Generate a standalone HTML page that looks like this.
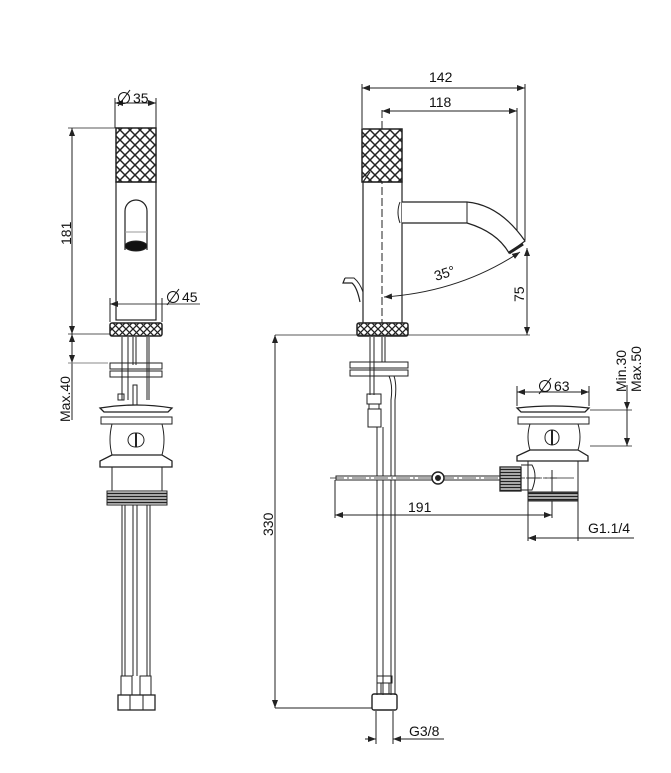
<!DOCTYPE html>
<html><head><meta charset="utf-8"><style>
html,body{margin:0;padding:0;background:#fff}
svg{display:block}
text{font-family:"Liberation Sans",sans-serif;font-size:14px;fill:#111}
</style></head><body>
<svg width="671" height="773" viewBox="0 0 671 773" xmlns="http://www.w3.org/2000/svg">
<defs>
<pattern id="kn" width="10" height="10" patternUnits="userSpaceOnUse">
<rect width="10" height="10" fill="#fff"/>
<path d="M0 0L10 10M10 0L0 10" stroke="#222" stroke-width="1.5"/>
</pattern>
<pattern id="kn2" width="7" height="7" patternUnits="userSpaceOnUse">
<rect width="7" height="7" fill="#fff"/>
<path d="M0 0L7 7M7 0L0 7" stroke="#222" stroke-width="1.3"/>
</pattern>
<pattern id="th" width="3" height="3" patternUnits="userSpaceOnUse">
<rect width="3" height="3" fill="#fff"/><path d="M0 1.5H3" stroke="#222" stroke-width="1.8"/>
</pattern>
<marker id="a" markerWidth="8" markerHeight="6" refX="8" refY="3" orient="auto-start-reverse" markerUnits="userSpaceOnUse">
<path d="M0 0L8 3L0 6z" fill="#222"/></marker>
</defs>
<g fill="none" stroke="#222" stroke-width="1">
<!-- LEFT VIEW -->
<line x1="115" y1="98" x2="115" y2="128"/><line x1="156" y1="98" x2="156" y2="128"/>
<line x1="115" y1="103" x2="156" y2="103" marker-start="url(#a)" marker-end="url(#a)"/>
<line x1="68" y1="128" x2="116" y2="128" stroke-width=".7"/>
<line x1="68" y1="334" x2="110" y2="334" stroke-width=".7"/>
<line x1="72" y1="128" x2="72" y2="334" marker-start="url(#a)" marker-end="url(#a)"/>
<line x1="72" y1="334" x2="72" y2="348" marker-start="url(#a)"/>
<line x1="72" y1="363" x2="72" y2="420"/>
<line x1="72" y1="348" x2="72" y2="363" marker-end="url(#a)"/>
<line x1="68" y1="363" x2="108" y2="363" stroke="#888"/>
<rect x="116" y="128" width="40" height="54" fill="url(#kn)" stroke-width="1.5"/>
<rect x="116" y="182" width="40" height="138" stroke-width="1.2"/>
<path d="M125 250V211a11 11 0 0 1 22 0V250" stroke-width="1.2"/>
<ellipse cx="136" cy="246" rx="11" ry="5" fill="#111"/>
<line x1="125" y1="232" x2="147" y2="232" stroke="#999"/>
<line x1="110" y1="304" x2="200" y2="304" marker-start="url(#a)" stroke="#444"/>
<line x1="110" y1="298" x2="110" y2="322"/><line x1="162" y1="298" x2="162" y2="322"/>
<rect x="110" y="323" width="52" height="13" rx="2" fill="url(#kn2)" stroke-width="1.5"/>
<line x1="122" y1="337" x2="122" y2="400"/><line x1="128" y1="337" x2="128" y2="400"/>
<line x1="133" y1="337" x2="133" y2="365"/><line x1="136" y1="337" x2="136" y2="365"/>
<line x1="147" y1="337" x2="147" y2="400"/><line x1="149" y1="337" x2="149" y2="400"/>
<rect x="110" y="363" width="52" height="6"/><rect x="110" y="371" width="52" height="6"/>
<rect x="118" y="394" width="6" height="6"/><rect x="133" y="385" width="4" height="20"/>
<path d="M100 408Q136 402 172 408L168 412H104z" stroke-width="1.3"/>
<rect x="101" y="417" width="71" height="7"/>
<path d="M112 424Q108 440 112 455M162 424Q166 440 162 455"/>
<rect x="128" y="433" width="16" height="14" rx="7"/><line x1="136" y1="433" x2="136" y2="447" stroke-width="2"/>
<path d="M112 455L100 461V467H172V461L162 455z" stroke-width="1.3"/>
<rect x="112" y="467" width="50" height="24"/>
<rect x="107" y="491" width="60" height="14" fill="url(#th)"/>
<line x1="122" y1="505" x2="122" y2="676"/><line x1="125" y1="505" x2="125" y2="676"/>
<line x1="133" y1="505" x2="133" y2="676"/><line x1="137" y1="505" x2="137" y2="676"/>
<line x1="147" y1="505" x2="147" y2="676"/><line x1="150" y1="505" x2="150" y2="676"/>
<rect x="121" y="676" width="11" height="19"/><rect x="140" y="676" width="11" height="19"/>
<rect x="118" y="695" width="37" height="15" stroke-width="1.3"/>
<line x1="130" y1="695" x2="130" y2="710"/><line x1="143" y1="695" x2="143" y2="710"/>

<!-- RIGHT VIEW -->
<line x1="362" y1="84" x2="362" y2="128"/><line x1="525" y1="84" x2="525" y2="240"/>
<line x1="517" y1="108" x2="517" y2="236"/>
<line x1="362" y1="88" x2="525" y2="88" marker-start="url(#a)" marker-end="url(#a)"/>
<line x1="382" y1="111" x2="517" y2="111" marker-start="url(#a)" marker-end="url(#a)"/>
<line x1="382" y1="110" x2="382" y2="335" stroke-dasharray="8 3"/>
<rect x="362" y="129" width="40" height="53" fill="url(#kn)" stroke-width="1.5"/>
<path d="M363 182L370 172" stroke-width="1.2"/>
<rect x="363" y="182" width="39" height="141" stroke-width="1.2"/>
<path d="M402 202H467Q500 205 525 241L509 253Q497 232 467 223H402" stroke-width="1.2" fill="#fff"/>
<path d="M400 202Q396 212 400 223" />
<line x1="467" y1="202" x2="467" y2="223"/>
<path d="M509 253L523 244" stroke-width="3"/>
<path d="M384 297Q460 292 520 252" marker-start="url(#a)" marker-end="url(#a)"/>
<line x1="527" y1="248" x2="527" y2="335" marker-start="url(#a)" marker-end="url(#a)"/>
<path d="M345 278L343 283H352Q357 287 360 302" stroke-width="1.2"/>
<path d="M345 278H354Q360 283 363 292"/>
<rect x="357" y="323" width="51" height="13" rx="2" fill="url(#kn2)" stroke-width="1.5"/>
<line x1="275" y1="335" x2="530" y2="335" stroke-width=".8"/>
<line x1="275" y1="335" x2="275" y2="708" marker-start="url(#a)" marker-end="url(#a)"/>
<line x1="275" y1="708" x2="372" y2="708"/>
<line x1="370" y1="337" x2="370" y2="395"/><line x1="374" y1="337" x2="374" y2="395"/>
<line x1="382" y1="337" x2="382" y2="362"/><line x1="385" y1="337" x2="385" y2="362"/>
<rect x="350" y="362" width="58" height="6"/><rect x="350" y="370" width="58" height="6"/>
<rect x="367" y="394" width="14" height="10"/><rect x="369" y="404" width="10" height="5"/>
<rect x="368" y="409" width="13" height="18"/>
<line x1="377" y1="427" x2="377" y2="695"/><line x1="383" y1="427" x2="383" y2="695"/>
<path d="M389 376Q393 385 391 400V695M394 376Q397 385 395 400V695"/>
<rect x="377" y="676" width="15" height="7"/><line x1="381" y1="683" x2="381" y2="694"/><line x1="389" y1="683" x2="389" y2="694"/>
<rect x="372" y="694" width="25" height="16" rx="2" stroke-width="1.4"/>
<line x1="376" y1="711" x2="376" y2="744"/><line x1="393" y1="711" x2="393" y2="744"/>
<line x1="365" y1="739" x2="376" y2="739" marker-end="url(#a)"/>
<line x1="393" y1="739" x2="444" y2="739" marker-start="url(#a)"/>
<!-- pull rod -->
<rect x="336" y="476" width="165" height="4" fill="#fff"/>
<line x1="330" y1="478" x2="560" y2="478" stroke-dasharray="14 3 2 3" stroke-width=".7"/>
<circle cx="438" cy="478" r="6" fill="#fff" stroke-width="1.5"/><circle cx="438" cy="478" r="2.5" fill="#222"/>
<line x1="335" y1="480" x2="335" y2="518"/>
<line x1="335" y1="515" x2="552" y2="515" marker-start="url(#a)" marker-end="url(#a)"/>
<line x1="552" y1="470" x2="552" y2="518"/>
<!-- waste right -->
<line x1="517" y1="386" x2="517" y2="406"/><line x1="589" y1="386" x2="589" y2="406"/>
<line x1="517" y1="392" x2="589" y2="392" marker-start="url(#a)" marker-end="url(#a)"/>
<path d="M517 408Q553 404 589 408L585 412H521z" stroke-width="1.3"/>
<rect x="518" y="417" width="71" height="7"/>
<path d="M530 424Q526 437 530 450M578 424Q582 437 578 450"/>
<rect x="545" y="430" width="14" height="15" rx="7"/><line x1="552" y1="430" x2="552" y2="445" stroke-width="2"/>
<path d="M530 450L517 456V461H588V456L578 450z" stroke-width="1.3"/>
<rect x="528" y="461" width="50" height="31"/>
<line x1="509" y1="478" x2="575" y2="478" stroke-dasharray="14 3" stroke-width=".7"/>
<path d="M521 465H532Q538 475 532 490H521"/>
<rect x="500" y="467" width="21" height="24" fill="url(#th)" stroke-width="1.3"/>
<rect x="528" y="492" width="50" height="9" fill="url(#th)"/>
<line x1="590" y1="410" x2="632" y2="410" stroke="#555"/>
<line x1="590" y1="446" x2="632" y2="446" stroke="#555"/>
<line x1="627" y1="385" x2="627" y2="410" marker-end="url(#a)"/>
<line x1="627" y1="410" x2="627" y2="446" marker-end="url(#a)"/>
<line x1="528" y1="501" x2="528" y2="541"/><line x1="578" y1="501" x2="578" y2="541"/>
<line x1="528" y1="538" x2="634" y2="538" marker-start="url(#a)"/>
<line x1="578" y1="538" x2="528" y2="538" marker-end="url(#a)"/>
</g>
<g fill="none" stroke="#111" stroke-width="1">
<circle cx="124" cy="98" r="5.5"/><line x1="118" y1="106" x2="130" y2="90"/>
<circle cx="173" cy="297" r="5.5"/><line x1="167" y1="305" x2="179" y2="289"/>
<circle cx="545" cy="386" r="5.5"/><line x1="539" y1="394" x2="551" y2="378"/>
</g>
<text x="133" y="103">35</text>
<text x="182" y="302">45</text>
<text x="554" y="391">63</text>
<text x="71" y="245" transform="rotate(-90 71 245)">181</text>
<text x="70" y="422" transform="rotate(-90 70 422)">Max.40</text>
<text x="429" y="82">142</text>
<text x="429" y="107">118</text>
<text x="436" y="281" transform="rotate(-18 436 281)">35°</text>
<text x="524" y="302" transform="rotate(-90 524 302)">75</text>
<text x="273" y="536" transform="rotate(-90 273 536)">330</text>
<text x="408" y="512">191</text>
<text x="588" y="533">G1.1/4</text>
<text x="409" y="736">G3/8</text>
<text x="626" y="392" transform="rotate(-90 626 392)">Min.30</text>
<text x="641" y="392" transform="rotate(-90 641 392)">Max.50</text>
</svg>
</body></html>
